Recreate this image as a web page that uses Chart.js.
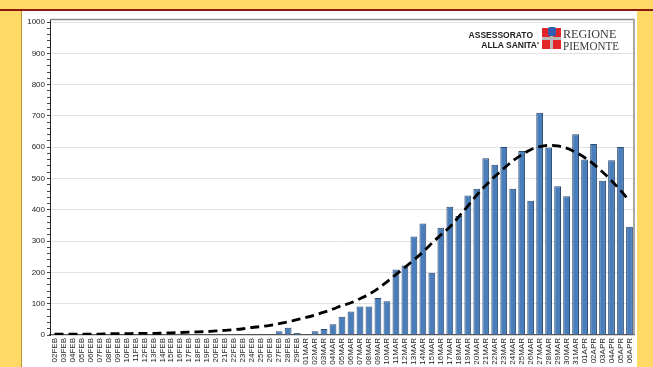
<!DOCTYPE html>
<html><head><meta charset="utf-8">
<script src="https://cdn.jsdelivr.net/npm/chart.js@4"></script>
<style>
html,body{margin:0;padding:0;width:653px;height:367px;overflow:hidden;background:#FFD966;}
#topline{position:absolute;left:0;top:9px;width:653px;height:2px;background:#8B1A0A;}
#panel{position:absolute;left:21px;top:11px;width:616px;height:356px;background:#fff;border-left:1px solid #b8923a;box-sizing:border-box;}
#wrap{position:absolute;left:21px;top:11px;width:616px;height:356px;}
.ass{position:absolute;font-family:"Liberation Sans",Arial,sans-serif;font-weight:bold;font-size:8.5px;color:#222;text-align:right;white-space:nowrap;}
.reg{position:absolute;font-family:"Liberation Serif","Times New Roman",serif;font-size:13.5px;color:#3a3a3a;white-space:nowrap;transform-origin:0 0;line-height:1;}
#flag{position:absolute;left:542px;top:28px;width:19px;height:21px;background:#b9b9b9;}
#flag div{position:absolute;background:#e3242b;width:8px;height:9px;}
#crown{position:absolute;left:6px;top:-1px;width:7px;height:3px;background:#2f5fb0 !important;border-radius:2px;}
</style></head>
<body>
<div id="topline"></div>
<div id="panel"></div>
<div id="wrap"><canvas id="c" width="616" height="356"></canvas></div>
<div class="ass" style="left:430px;top:30px;width:103px;">ASSESSORATO</div>
<div class="ass" style="left:430px;top:39.5px;width:109px;">ALLA SANITA'</div>
<div id="flag"><div style="left:0;top:0"></div><div style="left:11px;top:0"></div><div style="left:0;top:12px"></div><div style="left:11px;top:12px"></div><div id="crown"></div></div>
<div class="reg" style="left:563px;top:27px;transform:scaleX(0.9)">REGIONE</div>
<div class="reg" style="left:563px;top:39px;transform:scaleX(0.82)">PIEMONTE</div>
<script>
const categories = ["02FEB","03FEB","04FEB","05FEB","06FEB","07FEB","08FEB","09FEB","10FEB","11FEB","12FEB","13FEB","14FEB","15FEB","16FEB","17FEB","18FEB","19FEB","20FEB","21FEB","22FEB","23FEB","24FEB","25FEB","26FEB","27FEB","28FEB","29FEB",
"01MAR","02MAR","03MAR","04MAR","05MAR","06MAR","07MAR","08MAR","09MAR","10MAR","11MAR","12MAR","13MAR","14MAR","15MAR","16MAR","17MAR","18MAR","19MAR","20MAR","21MAR","22MAR","23MAR","24MAR","25MAR","26MAR","27MAR","28MAR","29MAR","30MAR","31MAR",
"01APR","02APR","03APR","04APR","05APR","06APR"];
const dailyCases = [0,0,0,0,0,0,0,0,0,0,0,0,0,0,0,0,0,0,0,0,1,1,1,1,1,12,23,6,
3,12,19,34,58,75,91,91,118,108,209,222,315,356,199,343,410,380,446,467,565,544,601,467,588,429,710,599,475,443,641,
561,610,493,558,601,346];
const trendLine = [3,3,3,3,3,3,4,4,4,5,5,5,6,7,8,9,10,11,13,15,17,20,24,27,31,36,42,49,
56,64,73,83,94,103,116,130,148,170,193,216,240,265,293,320,345,378,412,447,478,506,532,556,576,592,602,606,604,597,584,
567,546,521,493,462,428];
const yMin = 0, yMax = 1000, yMinorStep = 20, yMajorStep = 100;

const framePlugin = {
  id:'frame',
  beforeDatasetsDraw(chart){
    const {ctx, chartArea:a} = chart;
    ctx.save();
    ctx.strokeStyle = '#8a8a8a';
    ctx.lineWidth = 1.5;
    ctx.beginPath();
    ctx.moveTo(a.left, a.top); ctx.lineTo(a.right, a.top); ctx.lineTo(a.right, a.bottom);
    ctx.stroke();
    ctx.restore();
  }
};

new Chart(document.getElementById('c'), {
  data: {
    labels: categories,
    datasets: [
      {type:'line', data: trendLine, borderColor:'#000', borderWidth:2.8, borderDash:[9,5], pointRadius:0, cubicInterpolationMode:'monotone', fill:false, order:0},
      {type:'bar', data: dailyCases, backgroundColor:'#4a7ebb', borderColor:'#2b4a70', borderWidth:1, categoryPercentage:0.82, barPercentage:0.92, order:1}
    ]
  },
  options: {
    responsive:false, animation:false,
    layout:{padding:{top:8.5, right:3, left:0, bottom:0}},
    plugins:{legend:{display:false}, tooltip:{enabled:false}},
    scales:{
      x:{
        grid:{display:false, drawTicks:false},
        border:{display:true, color:'#555', width:1.2},
        ticks:{autoSkip:false, minRotation:90, maxRotation:90, padding:3, color:'#222', font:{family:'"Liberation Sans", Arial, sans-serif', size:8}},
        afterFit(s){ s.height = 32; s.paddingLeft = 0; s.paddingRight = 0; }
      },
      y:{
        z:1,
        min:yMin, max:1008,
        afterBuildTicks(s){ const t=[]; for(let v=yMin; v<=yMax; v+=yMinorStep) t.push({value:v}); s.ticks=t; },
        afterFit(s){ s.width = 29; s.paddingTop = 0; s.paddingBottom = 0; },
        border:{display:true, color:'#222', width:1},
        grid:{
          color:(c)=> (c.tick && c.tick.value % yMajorStep === 0 && c.tick.value>0) ? 'rgba(215,215,215,0.75)' : 'rgba(0,0,0,0)',
          tickColor:'#444', tickLength:3, lineWidth:1
        },
        ticks:{autoSkip:false, padding:2, color:'#222', font:{family:'"Liberation Sans", Arial, sans-serif', size:8},
          callback:(v)=> (v % yMajorStep === 0 ? String(v) : '')}
      }
    }
  },
  plugins:[framePlugin]
});
</script>
</body></html>
